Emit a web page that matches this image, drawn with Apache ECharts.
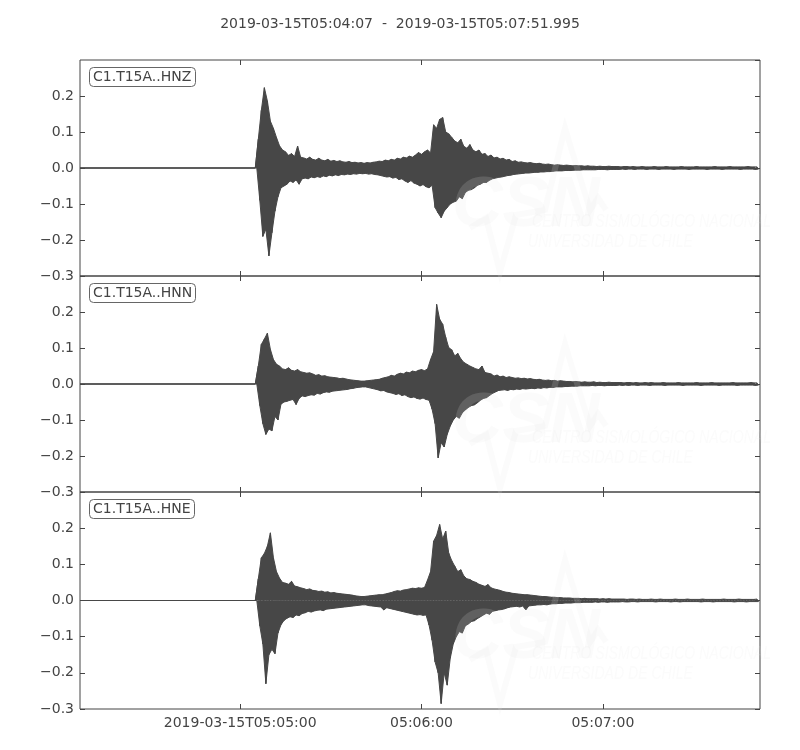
<!DOCTYPE html>
<html>
<head>
<meta charset="utf-8">
<script src="https://cdn.jsdelivr.net/npm/echarts@6/dist/echarts.min.js"></script>
<style>html,body{margin:0;padding:0;background:#fff}#chart{width:800px;height:750px}</style>
</head>
<body>
<div id="chart"></div>
<script>
// ---- chart data ----
const titleText = '2019-03-15T05:04:07  -  2019-03-15T05:07:51.995';
const stations = ['C1.T15A..HNZ', 'C1.T15A..HNN', 'C1.T15A..HNE'];
// x in seconds after 05:04:00
const xMin = 7, xMax = 231.995;
const xTickValues = [60, 120, 180];
const xTickLabels = ['2019-03-15T05:05:00', '05:06:00', '05:07:00'];
const yMin = -0.3, yMax = 0.3, yStep = 0.1;
// trace envelope, one value per second starting 05:05:05 (65 s)
const traceStart = 65, traceStep = 1;

const hnzHi = [
0.000,0.080,0.160,0.223,0.186,0.130,0.110,0.085,0.062,0.050,
0.045,0.035,0.040,0.032,0.061,0.030,0.028,0.025,0.030,0.024,
0.022,0.027,0.022,0.020,0.024,0.019,0.021,0.018,0.020,0.017,
0.016,0.018,0.015,0.016,0.014,0.015,0.013,0.015,0.014,0.016,
0.017,0.019,0.018,0.022,0.020,0.024,0.022,0.027,0.025,0.030,
0.028,0.033,0.030,0.036,0.043,0.038,0.045,0.050,0.042,0.120,
0.110,0.135,0.140,0.100,0.095,0.085,0.075,0.070,0.080,0.060,
0.055,0.065,0.050,0.045,0.050,0.038,0.040,0.032,0.036,0.028,
0.030,0.025,0.027,0.022,0.024,0.018,0.020,0.016,0.017,0.015,
0.014,0.015,0.013,0.012,0.013,0.011,0.010,0.011,0.009,0.008,
0.009,0.008,0.007,0.008,0.007,0.006,0.007,0.006,0.006,0.005,
0.006,0.005,0.005,0.004,0.005,0.004,0.004,0.005,0.004,0.004,
0.004,0.003,0.004,0.004,0.003,0.004,0.003,0.003,0.004,0.003,
0.003,0.003,0.004,0.003,0.003,0.003,0.004,0.003,0.003,0.003,
0.003,0.004,0.003,0.003,0.003,0.003,0.004,0.003,0.003,0.003,
0.003,0.003,0.004,0.003,0.003,0.003,0.003,0.004,0.003,0.003,
0.003,0.003,0.003,0.004,0.003,0.003,0.003];
const hnzLo = [
0.000,-0.090,-0.190,-0.170,-0.244,-0.180,-0.120,-0.080,-0.055,-0.050,
-0.045,-0.036,-0.040,-0.033,-0.045,-0.030,-0.028,-0.030,-0.025,-0.027,
-0.024,-0.026,-0.022,-0.024,-0.020,-0.022,-0.019,-0.021,-0.018,-0.019,
-0.017,-0.018,-0.016,-0.017,-0.015,-0.016,-0.015,-0.017,-0.016,-0.018,
-0.019,-0.021,-0.023,-0.025,-0.024,-0.028,-0.026,-0.032,-0.030,-0.036,
-0.040,-0.035,-0.042,-0.045,-0.050,-0.046,-0.052,-0.055,-0.048,-0.110,
-0.125,-0.138,-0.120,-0.110,-0.100,-0.095,-0.092,-0.080,-0.085,-0.068,
-0.062,-0.060,-0.055,-0.048,-0.045,-0.040,-0.040,-0.034,-0.030,-0.028,
-0.026,-0.025,-0.023,-0.021,-0.020,-0.018,-0.017,-0.016,-0.015,-0.014,
-0.014,-0.013,-0.012,-0.012,-0.011,-0.011,-0.010,-0.010,-0.009,-0.008,
-0.008,-0.008,-0.007,-0.007,-0.007,-0.006,-0.006,-0.006,-0.005,-0.005,
-0.005,-0.005,-0.005,-0.004,-0.004,-0.004,-0.005,-0.004,-0.004,-0.004,
-0.004,-0.003,-0.004,-0.003,-0.003,-0.004,-0.003,-0.003,-0.003,-0.004,
-0.003,-0.003,-0.003,-0.004,-0.003,-0.003,-0.003,-0.003,-0.004,-0.003,
-0.003,-0.003,-0.003,-0.004,-0.003,-0.003,-0.003,-0.003,-0.003,-0.004,
-0.003,-0.003,-0.003,-0.003,-0.004,-0.003,-0.003,-0.003,-0.003,-0.003,
-0.004,-0.003,-0.003,-0.003,-0.003,-0.004,-0.003];

const hnnHi = [
0.000,0.050,0.110,0.125,0.141,0.096,0.068,0.055,0.050,0.042,
0.040,0.045,0.038,0.036,0.040,0.034,0.032,0.030,0.031,0.028,
0.024,0.026,0.022,0.023,0.020,0.019,0.018,0.017,0.015,0.016,
0.014,0.012,0.011,0.010,0.009,0.008,0.008,0.009,0.010,0.011,
0.012,0.013,0.016,0.018,0.020,0.024,0.022,0.027,0.030,0.028,
0.033,0.031,0.036,0.034,0.038,0.040,0.037,0.042,0.068,0.090,
0.221,0.180,0.166,0.130,0.101,0.095,0.078,0.085,0.070,0.060,
0.055,0.050,0.046,0.042,0.040,0.050,0.032,0.030,0.028,0.022,
0.025,0.020,0.022,0.018,0.020,0.018,0.016,0.017,0.015,0.016,
0.014,0.015,0.013,0.012,0.013,0.011,0.010,0.011,0.009,0.010,
0.008,0.009,0.008,0.007,0.007,0.006,0.007,0.006,0.005,0.006,
0.005,0.005,0.006,0.004,0.005,0.004,0.004,0.005,0.004,0.004,
0.004,0.004,0.003,0.004,0.004,0.003,0.004,0.003,0.003,0.004,
0.003,0.004,0.003,0.003,0.003,0.004,0.003,0.003,0.003,0.003,
0.004,0.003,0.003,0.003,0.003,0.003,0.004,0.003,0.003,0.003,
0.003,0.004,0.003,0.003,0.003,0.003,0.003,0.003,0.004,0.003,
0.003,0.003,0.003,0.003,0.004,0.003,0.003];
const hnnLo = [
0.000,-0.060,-0.110,-0.140,-0.125,-0.130,-0.090,-0.100,-0.056,-0.050,
-0.048,-0.045,-0.043,-0.057,-0.040,-0.033,-0.035,-0.032,-0.030,-0.031,
-0.026,-0.028,-0.024,-0.022,-0.023,-0.020,-0.019,-0.018,-0.017,-0.016,
-0.015,-0.013,-0.012,-0.010,-0.009,-0.008,-0.008,-0.010,-0.012,-0.014,
-0.016,-0.019,-0.018,-0.022,-0.024,-0.026,-0.029,-0.027,-0.032,-0.030,
-0.035,-0.038,-0.036,-0.040,-0.042,-0.039,-0.043,-0.045,-0.070,-0.110,
-0.205,-0.163,-0.175,-0.140,-0.117,-0.100,-0.090,-0.095,-0.080,-0.072,
-0.065,-0.060,-0.058,-0.052,-0.045,-0.040,-0.038,-0.032,-0.026,-0.022,
-0.018,-0.017,-0.016,-0.018,-0.015,-0.016,-0.014,-0.015,-0.013,-0.014,
-0.013,-0.012,-0.013,-0.011,-0.012,-0.010,-0.011,-0.009,-0.010,-0.008,
-0.008,-0.008,-0.007,-0.007,-0.006,-0.006,-0.006,-0.005,-0.005,-0.005,
-0.005,-0.004,-0.005,-0.004,-0.004,-0.005,-0.004,-0.004,-0.004,-0.004,
-0.003,-0.004,-0.003,-0.004,-0.003,-0.003,-0.004,-0.003,-0.003,-0.003,
-0.004,-0.003,-0.003,-0.003,-0.003,-0.004,-0.003,-0.003,-0.003,-0.003,
-0.003,-0.004,-0.003,-0.003,-0.003,-0.003,-0.003,-0.004,-0.003,-0.003,
-0.003,-0.003,-0.003,-0.004,-0.003,-0.003,-0.003,-0.003,-0.003,-0.004,
-0.003,-0.003,-0.003,-0.003,-0.003,-0.004,-0.003];

const hneHi = [
0.000,0.060,0.118,0.130,0.150,0.187,0.118,0.080,0.062,0.050,
0.048,0.045,0.053,0.040,0.038,0.035,0.033,0.030,0.032,0.028,
0.027,0.025,0.026,0.023,0.024,0.021,0.022,0.020,0.019,0.018,
0.017,0.016,0.015,0.013,0.012,0.011,0.011,0.012,0.013,0.014,
0.015,0.016,0.016,0.018,0.020,0.022,0.025,0.027,0.026,0.029,
0.030,0.032,0.034,0.033,0.035,0.034,0.036,0.057,0.080,0.164,
0.180,0.210,0.170,0.192,0.131,0.110,0.095,0.080,0.085,0.068,
0.060,0.058,0.053,0.050,0.045,0.042,0.039,0.044,0.035,0.032,
0.030,0.028,0.025,0.023,0.022,0.020,0.019,0.018,0.017,0.016,
0.016,0.015,0.014,0.013,0.012,0.011,0.011,0.010,0.009,0.009,
0.008,0.008,0.007,0.007,0.007,0.006,0.006,0.006,0.005,0.006,
0.005,0.005,0.005,0.005,0.004,0.005,0.004,0.005,0.004,0.004,
0.004,0.004,0.004,0.003,0.004,0.004,0.003,0.004,0.003,0.003,
0.003,0.004,0.003,0.003,0.004,0.003,0.003,0.003,0.003,0.004,
0.003,0.003,0.003,0.004,0.003,0.003,0.003,0.003,0.004,0.003,
0.003,0.003,0.003,0.003,0.003,0.004,0.003,0.003,0.003,0.003,
0.004,0.003,0.003,0.003,0.003,0.003,0.004];
const hneLo = [
0.000,-0.070,-0.120,-0.230,-0.150,-0.135,-0.147,-0.090,-0.067,-0.055,
-0.049,-0.045,-0.047,-0.040,-0.042,-0.036,-0.034,-0.030,-0.032,-0.029,
-0.027,-0.026,-0.028,-0.024,-0.023,-0.022,-0.021,-0.020,-0.019,-0.018,
-0.017,-0.016,-0.015,-0.014,-0.013,-0.012,-0.012,-0.014,-0.015,-0.016,
-0.017,-0.018,-0.026,-0.020,-0.022,-0.024,-0.026,-0.028,-0.030,-0.032,
-0.034,-0.036,-0.038,-0.040,-0.039,-0.041,-0.040,-0.068,-0.110,-0.170,
-0.200,-0.285,-0.200,-0.234,-0.160,-0.120,-0.100,-0.086,-0.090,-0.070,
-0.065,-0.058,-0.056,-0.050,-0.045,-0.040,-0.035,-0.038,-0.030,-0.028,
-0.026,-0.025,-0.023,-0.020,-0.018,-0.017,-0.016,-0.018,-0.015,-0.026,
-0.015,-0.014,-0.013,-0.012,-0.012,-0.011,-0.012,-0.010,-0.009,-0.009,
-0.008,-0.008,-0.007,-0.007,-0.007,-0.006,-0.006,-0.006,-0.005,-0.005,
-0.005,-0.005,-0.004,-0.005,-0.004,-0.004,-0.005,-0.004,-0.004,-0.004,
-0.004,-0.003,-0.004,-0.004,-0.003,-0.003,-0.004,-0.003,-0.003,-0.003,
-0.003,-0.003,-0.004,-0.003,-0.003,-0.003,-0.003,-0.004,-0.003,-0.003,
-0.004,-0.003,-0.003,-0.003,-0.003,-0.003,-0.003,-0.004,-0.003,-0.003,
-0.003,-0.004,-0.003,-0.003,-0.003,-0.003,-0.003,-0.003,-0.004,-0.003,
-0.003,-0.003,-0.004,-0.003,-0.003,-0.003,-0.003];

// ---- build ----
const traces = [[hnzHi, hnzLo], [hnnHi, hnnLo], [hneHi, hneLo]];
const gridTops = [60, 276, 492];
const gridHeights = [216, 216, 217];
const ink = '#474747';
const textColor = '#444';
const font = 'DejaVu Sans';
const fs = 14;

function buildEdge(vals, offset) {
  const d = [[xMin, 0]];
  for (let i = 0; i < vals.length; i++) d.push([traceStart + i * traceStep + offset, vals[i]]);
  return d;
}
function buildZigzag(hi, lo) {
  const d = [[xMin, 0]];
  for (let i = 0; i < hi.length; i++) {
    const t = traceStart + i * traceStep;
    d.push([t, hi[i]]);
    d.push([t + traceStep / 2, lo[i]]);
  }
  return d;
}
function fmtY(v) {
  const s = (Math.round(v * 10) / 10).toFixed(1);
  return s === '-0.0' ? '0.0' : s.replace('-', '\u2212');
}

const grid = [], xAxis = [], yAxis = [], series = [], title = [], graphic = [];
title.push({ text: titleText, left: 'center', top: 12,
  textStyle: { fontFamily: font, fontSize: fs, fontWeight: 'normal', color: textColor } });

gridTops.forEach((top, g) => {
  grid.push({ left: 80, width: 680, top: top, height: gridHeights[g], show: true,
    borderColor: '#444', borderWidth: 1, backgroundColor: 'transparent' });
  ['bottom', 'top'].forEach((pos) => {
    xAxis.push({ gridIndex: g, type: 'value', position: pos, min: xMin, max: xMax,
      axisLine: { show: false, onZero: false }, splitLine: { show: false },
      axisTick: { show: true, inside: true, length: 5, customValues: xTickValues, lineStyle: { color: '#444' } },
      axisLabel: { show: pos === 'bottom' && g === 2, customValues: xTickValues,
        formatter: (v) => xTickLabels[xTickValues.indexOf(v)],
        color: textColor, fontFamily: font, fontSize: fs, margin: 7 } });
  });
  ['left', 'right'].forEach((pos) => {
    yAxis.push({ gridIndex: g, type: 'value', position: pos, min: yMin, max: yMax, interval: yStep,
      axisLine: { show: false, onZero: false }, splitLine: { show: false },
      axisTick: { show: true, inside: true, length: 5, lineStyle: { color: '#444' } },
      axisLabel: { show: pos === 'left', showMaxLabel: false, showMinLabel: true, formatter: fmtY,
        color: textColor, fontFamily: font, fontSize: fs, margin: 6 } });
  });
  const hi = traces[g][0], lo = traces[g][1];
  const common = { type: 'line', xAxisIndex: g * 2, yAxisIndex: g * 2, showSymbol: false, symbol: 'none',
    sampling: null, silent: true, animation: false };
  series.push(Object.assign({}, common, { data: buildEdge(hi, 0),
    lineStyle: { color: ink, width: 1 }, areaStyle: { color: ink, opacity: 1, origin: 0 } }));
  series.push(Object.assign({}, common, { data: buildEdge(lo, 0.5),
    lineStyle: { color: ink, width: 1 }, areaStyle: { color: ink, opacity: 1, origin: 0 } }));
  series.push(Object.assign({}, common, { data: buildZigzag(hi, lo),
    lineStyle: { color: ink, width: 1 } }));
  title.push({ text: stations[g], left: 89, top: top + 7, padding: [3, 4, 3, 4],
    borderColor: '#666', borderWidth: 1, borderRadius: 4, backgroundColor: '#fff',
    textStyle: { fontFamily: font, fontSize: fs, fontWeight: 'normal', color: textColor } });

  // faint CSN watermark
  const wm = 'rgba(228,228,228,0.16)';
  graphic.push({ type: 'text', z: 100, silent: true, left: 452, top: top + 112,
    style: { text: 'CSN', fill: wm, font: 'italic bold 70px "Liberation Sans"' } });
  graphic.push({ type: 'polyline', z: 100, silent: true,
    shape: { points: [[470, top + 168], [486, top + 158], [500, top + 212], [516, top + 155], [545, top + 150], [565, top + 68], [590, top + 150], [598, top + 138], [606, top + 150]] },
    style: { stroke: wm, lineWidth: 6, fill: null } });
  graphic.push({ type: 'text', z: 100, silent: true, x: 532, y: top + 152, scaleX: 0.74,
    style: { text: 'CENTRO SISMOL\u00d3GICO NACIONAL', fill: wm, font: 'italic 19px "Liberation Sans"' } });
  graphic.push({ type: 'text', z: 100, silent: true, x: 528, y: top + 172, scaleX: 0.74,
    style: { text: 'UNIVERSIDAD DE CHILE', fill: wm, font: 'italic 19px "Liberation Sans"' } });
});

const chart = echarts.init(document.getElementById('chart'), null, { renderer: 'canvas' });
chart.setOption({
  animation: false,
  backgroundColor: '#fff',
  textStyle: { fontFamily: font },
  title: title,
  grid: grid,
  xAxis: xAxis,
  yAxis: yAxis,
  series: series,
  graphic: graphic
});
</script>
</body>
</html>
